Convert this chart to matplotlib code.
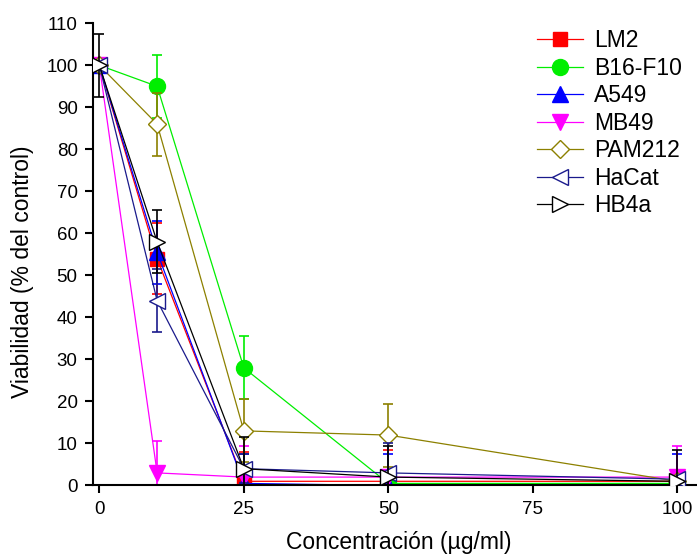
import numpy as np
import matplotlib
matplotlib.use("Agg")
import matplotlib.pyplot as plt

plt.rcParams['font.family'] = ['Liberation Sans', 'DejaVu Sans']

conc = [0, 10, 25, 50, 100]
names = ["LM2", "B16-F10", "A549", "MB49", "PAM212", "HaCat", "HB4a"]
lm2 = [100, 54, 1, 1, 1]
lm2_err = [0, 8.5, 7, 7.5, 0]
b16 = [100, 95, 28, 0.5, 0.5]
b16_err = [0, 7.5, 7.5, 0, 0]
a549 = [100, 55.5, 0.5, 0, 0]
a549_err = [0, 7.5, 7, 7.5, 7.5]
mb49 = [100, 3, 2, 2, 2]
mb49_err = [0, 7.5, 7.3, 0, 7.3]
pam212 = [100, 86, 13, 12, 1]
pam212_err = [0, 7.5, 7.5, 7.5, 0]
hacat = [100, 44, 4, 3, 1.5]
hacat_err = [0, 7.5, 3.5, 7, 0]
hb4a = [100, 58, 4, 2, 1]
hb4a_err = [7.5, 7.5, 7.5, 7.3, 7.5]

series = [lm2, b16, a549, mb49, pam212, hacat, hb4a]
errors = [lm2_err, b16_err, a549_err, mb49_err, pam212_err, hacat_err, hb4a_err]
colors = ['#FF0000', '#00EE00', '#0000FF', '#FF00FF', '#8C8000', '#1A1A8C', '#000000']
markers = ['s', 'o', '^', 'v', 'D', '<', '>']
sizes = [9.5, 11.5, 11, 11, 9.5, 11.5, 11.5]
filled = [True, True, True, True, False, False, False]

fig = plt.figure(figsize=(6.97, 5.56), dpi=100)
ax = fig.add_axes([0.1334, 0.1268, 0.8666, 0.8313])

for i, (y, e) in enumerate(zip(series, errors)):
    c = colors[i]
    ax.errorbar(conc, y, yerr=e, fmt='none', ecolor=c, elinewidth=1.2,
                capsize=3.8, capthick=1.2, zorder=2 + i * 0.1)
    ax.plot(conc, y, color=c, lw=0.9, marker=markers[i], ms=sizes[i],
            mfc=c if filled[i] else 'white', mec=c, mew=1.0,
            label=names[i], zorder=2.05 + i * 0.1)

ax.set_xlim(-1.1, 103.4)
ax.set_ylim(0, 110)
ax.set_xticks([0, 25, 50, 75, 100])
ax.set_yticks(np.arange(0, 111, 10))
ax.spines['top'].set_visible(False)
ax.spines['right'].set_visible(False)
ax.spines['left'].set_linewidth(1.5)
ax.spines['bottom'].set_linewidth(1.5)
ax.tick_params(direction='out', length=6, width=1.5, labelsize=13.5, pad=5)

ax.set_xlabel("Concentración (µg/ml)", fontsize=16.5)
ax.set_ylabel("Viabilidad (% del control)", fontsize=16.5)
ax.xaxis.set_label_coords(0.507, -0.099)
ax.yaxis.set_label_coords(-0.097, 0.462)

leg = fig.legend(loc='upper left', bbox_to_anchor=(537 / 697, 1 - 29 / 556),
                 frameon=False, fontsize=16.5, handlelength=2.0, handletextpad=0.5,
                 labelspacing=0.2, borderpad=0, borderaxespad=0)

fig.savefig("out.png", dpi=100)
